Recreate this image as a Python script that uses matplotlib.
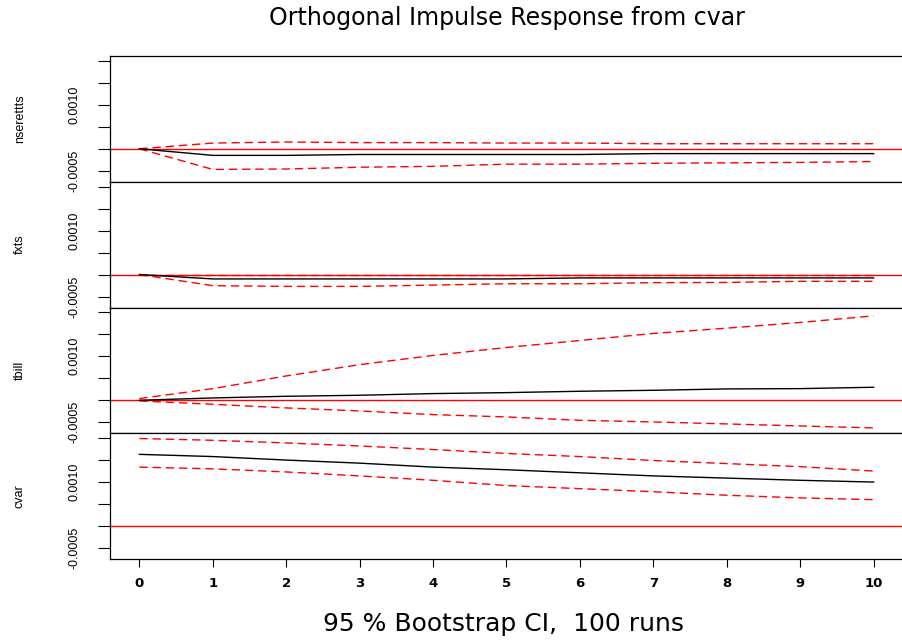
import matplotlib
matplotlib.use("Agg")
import matplotlib.pyplot as plt
from matplotlib.ticker import FixedLocator, FuncFormatter

plt.rcParams['font.family'] = ['Liberation Sans', 'DejaVu Sans']

# impulse responses (orthogonal, shock in cvar) with bootstrap bands
steps = [0, 1, 2, 3, 4, 5, 6, 7, 8, 9, 10]
variables = ["nserettts", "fxts", "tbill", "cvar"]

nser_irf = [0, -0.00015, -0.00015, -0.00013, -0.00013, -0.00013, -0.00013, -0.00011, -0.00011, -0.00011, -0.00011]
nser_low = [0, -0.00047, -0.00046, -0.00042, -0.00040, -0.00035, -0.00035, -0.00033, -0.00032, -0.00031, -0.00029]
nser_upp = [0, 0.00013, 0.000154, 0.00014, 0.00014, 0.00013, 0.00013, 0.000115, 0.000115, 0.000115, 0.000115]

fxts_irf = [0, -0.0001, -0.0001, -0.0001, -0.0001, -0.0001, -0.000077, -0.000077, -0.000077, -0.000077, -0.000077]
fxts_low = [0, -0.000254, -0.00027, -0.00027, -0.00024, -0.00021, -0.00021, -0.000185, -0.00018, -0.000154, -0.000154]
fxts_upp = [0, 0, 0, 0, 0, 0, 0, 0, 0, 0, 0]

tbill_irf = [0, 0.000053, 0.000091, 0.000114, 0.000152, 0.000174, 0.000205, 0.000227, 0.000258, 0.000265, 0.000296]
tbill_low = [-0.000015, -0.000091, -0.000174, -0.000243, -0.000326, -0.000379, -0.000455, -0.000493, -0.000538, -0.000584, -0.000629]
tbill_upp = [0.000038, 0.000265, 0.000553, 0.00081, 0.00102, 0.0012, 0.00136, 0.00152, 0.00164, 0.00177, 0.00192]

cvar_irf = [0.00163, 0.00158, 0.0015, 0.00143, 0.00134, 0.00128, 0.00121, 0.00114, 0.00109, 0.00104, 0.001]
cvar_low = [0.00134, 0.0013, 0.00123, 0.00114, 0.00104, 0.00092, 0.00085, 0.00078, 0.0007, 0.00064, 0.0006]
cvar_upp = [0.00199, 0.00195, 0.00189, 0.00182, 0.00174, 0.00165, 0.00158, 0.00149, 0.00142, 0.00135, 0.00125]

series = [
    (nser_irf, nser_low, nser_upp),
    (fxts_irf, fxts_low, fxts_upp),
    (tbill_irf, tbill_low, tbill_upp),
    (cvar_irf, cvar_low, cvar_upp),
]

ytick_vals = [-0.0005, 0.0, 0.0005, 0.001, 0.0015, 0.002]
ytick_shown = {-0.0005: "-0.0005", 0.001: "0.0010"}

W, H = 903, 641
fig = plt.figure(figsize=(W / 100, H / 100), dpi=100)

left, right = 110, 903
top, panel_h = 56, 125.75

axes = []
for i, (name, (irf, low, upp)) in enumerate(zip(variables, series)):
    y0 = top + i * panel_h
    ax = fig.add_axes([left / W, 1 - (y0 + panel_h) / H, (right - left) / W, panel_h / H])
    ax.plot(steps, low, color="red", lw=1, dashes=(6, 3.5))
    ax.plot(steps, upp, color="red", lw=1, dashes=(6, 3.5))
    ax.axhline(0, color="red", lw=1)
    ax.plot(steps, irf, color="black", lw=1)
    ax.set_xlim(-0.4, 10.4)
    ax.set_ylim(-0.00075, 0.00211)
    ax.yaxis.set_major_locator(FixedLocator(ytick_vals))
    ax.yaxis.set_major_formatter(FuncFormatter(
        lambda v, p: next((s for k, s in ytick_shown.items() if abs(v - k) < 1e-9), "")))
    ax.tick_params(axis="y", length=9, width=0.8, pad=12, labelsize=9, labelrotation=90)
    for lbl in ax.get_yticklabels():
        lbl.set_va("center")
    ax.set_ylabel(name, fontsize=9)
    ax.yaxis.set_label_coords(-0.106, 0.5)
    for sp in ax.spines.values():
        sp.set_linewidth(0.9)
    if i < 3:
        ax.tick_params(axis="x", bottom=False, labelbottom=False)
    else:
        ax.set_xticks(steps)
        ax.tick_params(axis="x", length=6, width=0.8, pad=7, labelsize=9.5)
        for lbl in ax.get_xticklabels():
            lbl.set_fontweight("bold")
            lbl.set_family("DejaVu Sans")
    axes.append(ax)

fig.text((left + right) / 2 / W, 1 - 18 / H, "Orthogonal Impulse Response from cvar",
         ha="center", va="center", fontsize=17, family="DejaVu Sans")
fig.text(504 / W, 1 - 624 / H, "95 % Bootstrap CI,  100 runs",
         ha="center", va="center", fontsize=18, family="DejaVu Sans")

fig.savefig("out.png", dpi=100)
